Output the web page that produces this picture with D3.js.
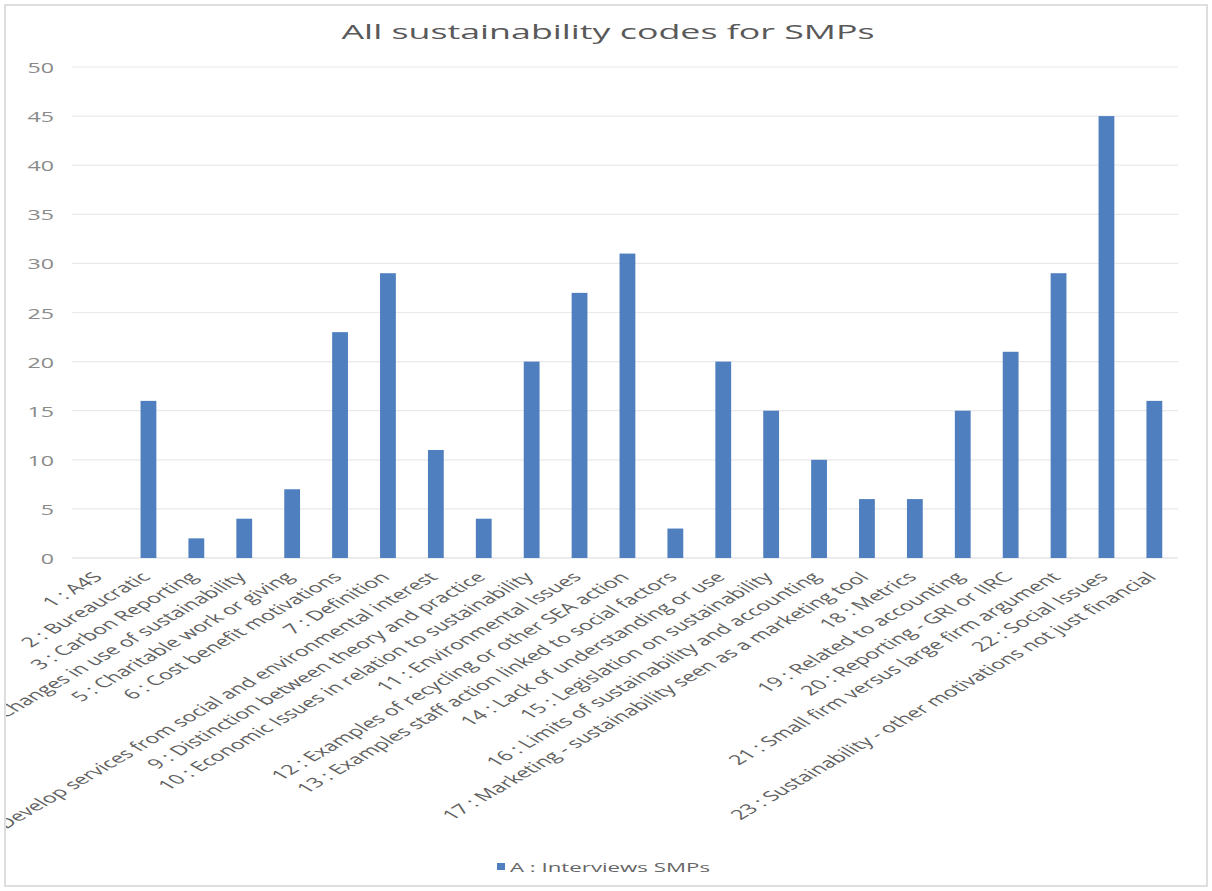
<!DOCTYPE html>
<html>
<head>
<meta charset="utf-8">
<script src="https://cdn.jsdelivr.net/npm/d3@7"></script>
<style>
    body { margin: 0; background: #fff; }
    text { font-family: "Open Sans", "Liberation Sans", sans-serif; }
</style>
</head>
<body>
<div id="chart"></div>
<script>
const CONSTANTS = {
    WIDTH: 1212,
    HEIGHT: 891,
    STRETCH: 1.72,
    BAR: "#4f7fbf",
}

// codes and number of references
var codes = [
    "1 : A4S",
    "2 : Bureaucratic",
    "3 : Carbon Reporting",
    "4 : Changes in use of sustainability",
    "5 : Charitable work or giving",
    "6 : Cost benefit motivations",
    "7 : Definition",
    "8 : Develop services from social and environmental interest",
    "9 : Distinction between theory and practice",
    "10 : Economic Issues in relation to sustainability",
    "11 : Environmental Issues",
    "12 : Examples of recycling or other SEA action",
    "13 : Examples staff action linked to social factors",
    "14 : Lack of understanding or use",
    "15 : Legislation on sustainability",
    "16 : Limits of sustainability and accounting",
    "17 : Marketing - sustainability seen as a marketing tool",
    "18 : Metrics",
    "19 : Related to accounting",
    "20 : Reporting - GRI or IIRC",
    "21 : Small firm versus large firm argument",
    "22 : Social Issues",
    "23 : Sustainability - other motivations not just financial"
];
var interviews = [0, 16, 2, 4, 7, 23, 29, 11, 4, 20, 27, 31, 3, 20, 15, 10, 6, 6, 15, 21, 29, 45, 16];
var yTicks = [0, 5, 10, 15, 20, 25, 30, 35, 40, 45, 50];
var seriesName = "A : Interviews SMPs";
var title = "All sustainability codes for SMPs";

var svg = d3.select("#chart")
    .append("svg")
    .attr("width", CONSTANTS.WIDTH)
    .attr("height", CONSTANTS.HEIGHT);

svg.append("clipPath")
    .attr("id", "card")
    .append("rect")
    .attr("x", 6).attr("y", 6)
    .attr("width", 1200).attr("height", 879);

svg.append("rect")
    .attr("x", 5).attr("y", 5)
    .attr("width", 1202).attr("height", 881)
    .attr("fill", "white")
    .attr("stroke", "#d4d4d4")
    .attr("stroke-width", 1.5);

var g = svg.append("g").attr("clip-path", "url(#card)");

var x = d3.scaleBand()
    .domain(codes)
    .range([76.6, 1178.3])
    .paddingInner(0.67)
    .paddingOuter(0.335);

var y = d3.scaleLinear()
    .domain([0, 50])
    .range([558, 67]);

// gridlines
g.append("g")
    .selectAll("line")
    .data(yTicks)
    .enter()
    .append("line")
        .attr("x1", 72)
        .attr("x2", 1178)
        .attr("y1", d => y(d))
        .attr("y2", d => y(d))
        .attr("stroke", d => d === 0 ? "#d9d9d9" : "#e9e9e9")
        .attr("stroke-width", 1.2);

// y tick labels
g.append("g")
    .selectAll("text")
    .data(yTicks)
    .enter()
    .append("text")
        .attr("transform", d => "translate(54," + (y(d) + 6) + ") scale(1.6,1)")
        .attr("text-anchor", "end")
        .attr("font-size", 14.5)
        .attr("fill", "#8a8a8a")
        .text(d => d);

// bars
g.append("g")
    .selectAll("rect")
    .data(interviews)
    .enter()
    .append("rect")
        .attr("x", (d, i) => x(codes[i]))
        .attr("y", d => y(d))
        .attr("width", x.bandwidth())
        .attr("height", d => y(0) - y(d))
        .attr("fill", CONSTANTS.BAR);

// category labels, written at 45 degrees on a stretched picture
g.append("g")
    .selectAll("text")
    .data(codes)
    .enter()
    .append("text")
        .attr("transform", d => "translate(" + (x(d) + x.bandwidth() / 2 + 3) + ",578) scale(" + CONSTANTS.STRETCH + ",1) rotate(-45)")
        .attr("text-anchor", "end")
        .attr("font-size", 13.6)
        .attr("fill", "#606060")
        .text(d => d);

// title
g.append("text")
    .attr("x", 608)
    .attr("y", 39)
    .attr("text-anchor", "middle")
    .attr("font-size", 20)
    .attr("fill", "#595959")
    .attr("textLength", 533)
    .attr("lengthAdjust", "spacingAndGlyphs")
    .text(title);

// legend
var legend = g.append("g");
legend.append("rect")
    .attr("x", 497).attr("y", 863)
    .attr("width", 8).attr("height", 7)
    .attr("fill", CONSTANTS.BAR);
legend.append("text")
    .attr("x", 510)
    .attr("y", 872)
    .attr("font-size", 13.5)
    .attr("fill", "#666")
    .attr("textLength", 200)
    .attr("lengthAdjust", "spacingAndGlyphs")
    .text(seriesName);
</script>
</body>
</html>
